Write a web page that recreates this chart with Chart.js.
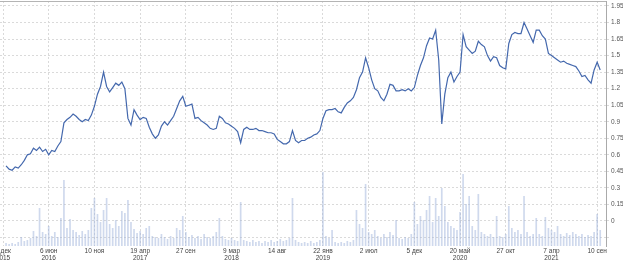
<!DOCTYPE html>
<html>
<head>
<meta charset="utf-8">
<script src="https://cdn.jsdelivr.net/npm/chart.js@4/dist/chart.umd.min.js"></script>
<style>
  html, body { margin: 0; padding: 0; background: #fff; }
  #wrap { width: 623px; height: 263px; overflow: hidden; }
</style>
</head>
<body>
<div id="wrap"><canvas id="grafico" width="623" height="263"></canvas></div>
<script>
// === Datos ===
// price: one value per step (step index starts at 1)
const price = [
  0.50, 0.47, 0.46, 0.49, 0.48, 0.51, 0.55, 0.60, 0.61, 0.66,
  0.64, 0.67, 0.63, 0.65, 0.60, 0.64, 0.63, 0.68, 0.72, 0.89,
  0.92, 0.94, 0.97, 0.95, 0.92, 0.90, 0.92, 0.91, 0.96, 1.04,
  1.15, 1.22, 1.35, 1.22, 1.17, 1.21, 1.25, 1.23, 1.26, 1.20,
  0.93, 0.87, 1.01, 0.96, 0.92, 0.94, 0.93, 0.85, 0.79, 0.75,
  0.78, 0.86, 0.90, 0.87, 0.91, 0.95, 1.02, 1.09, 1.13, 1.04,
  1.05, 1.06, 0.93, 0.94, 0.91, 0.89, 0.87, 0.84, 0.83, 0.84,
  0.95, 0.93, 0.89, 0.88, 0.86, 0.84, 0.81, 0.71, 0.83, 0.85,
  0.83, 0.83, 0.84, 0.82, 0.82, 0.81, 0.80, 0.80, 0.79, 0.74,
  0.72, 0.70, 0.70, 0.72, 0.82, 0.73, 0.71, 0.73, 0.73, 0.75,
  0.76, 0.78, 0.79, 0.82, 0.93, 1.00, 1.01, 1.01, 1.02, 0.99,
  0.98, 1.03, 1.07, 1.09, 1.12, 1.19, 1.30, 1.35, 1.48, 1.39,
  1.28, 1.20, 1.18, 1.12, 1.09, 1.15, 1.24, 1.23, 1.18, 1.18,
  1.19, 1.18, 1.20, 1.18, 1.21, 1.32, 1.41, 1.48, 1.59, 1.66,
  1.65, 1.73, 1.46, 0.88, 1.15, 1.30, 1.35, 1.26, 1.31, 1.35,
  1.69, 1.58, 1.55, 1.52, 1.54, 1.63, 1.60, 1.58, 1.50, 1.45,
  1.49, 1.48, 1.41, 1.39, 1.38, 1.61, 1.69, 1.71, 1.70, 1.70,
  1.80, 1.74, 1.68, 1.62, 1.73, 1.73, 1.68, 1.65, 1.52, 1.50,
  1.48, 1.46, 1.44, 1.45, 1.43, 1.42, 1.41, 1.40, 1.36, 1.31,
  1.32, 1.28, 1.25, 1.37, 1.44, 1.37
];

// volume: same steps as price
const volume = [
   3,  2,  3,  2,  4,  9,  5,  6,  8, 15,
  10, 38, 14, 12, 20, 10, 14,  9, 28, 66,
  18, 27, 16, 14, 11, 15, 12, 16, 38, 48,
  32, 24, 36, 48, 22, 18, 26, 20, 35, 33,
  46, 24, 17, 13, 15, 12, 18, 20, 10,  9,
   8, 12,  9,  7, 10,  8, 18, 16, 30, 14,
   9, 11,  8, 10,  7, 12,  9,  8, 10, 14,
  28, 10,  7,  6,  8,  6,  5, 44,  6,  5,
   4,  6,  4,  5,  3,  5,  4,  6,  4,  5,
   7,  5,  6,  8, 48,  6,  4,  3,  4,  3,
   5,  3,  4,  6, 74, 10,  8, 16,  4,  3,
   4,  3,  5,  4,  6, 36, 22, 18, 62, 14,
  12, 16, 10,  8, 12,  9, 14, 11, 26,  8,
   7,  9,  8, 12, 44, 22, 30, 26, 36, 50,
  24, 48, 30, 58, 40, 24, 20, 18, 16, 34,
  72, 42, 50, 20, 16, 52, 14, 12, 10, 12,
   9, 30, 10,  9, 12, 40, 18, 14, 16, 12,
  50, 14, 10, 12, 28, 12, 10, 29, 18, 16,
  14, 20, 12, 10, 13, 11, 14, 12, 10, 12,
   9, 11, 10, 14, 32, 16
];

// x tick positions (step index) and labels
const xTickIdx = [0, 15, 30, 45, 60, 75, 90, 105, 120, 135, 150, 165, 180, 195];
const xTickLabels = [
  ['2 дек', '2015'], ['6 июн', '2016'], '10 ноя', ['19 апр', '2017'], '27 сен',
  ['9 мар', '2018'], '14 авг', ['22 янв', '2019'], '2 июл', '5 дек',
  ['20 май', '2020'], '27 окт', ['7 апр', '2021'], '10 сен'
];

// price axis ticks
const yTicks = [-0.15, 0, 0.15, 0.3, 0.45, 0.6, 0.75, 0.9, 1.05, 1.2, 1.35, 1.5, 1.65, 1.8, 1.95];

const ctx = document.getElementById('grafico').getContext('2d');

// linea gris arriba del grafico
const bordeSuperior = {
  id: 'bordeSuperior',
  afterDraw(chart) {
    const a = chart.chartArea;
    const c = chart.ctx;
    c.save();
    c.strokeStyle = '#b4b4b4';
    c.lineWidth = 1;
    c.beginPath();
    c.moveTo(0, a.top + 0.5);
    c.lineTo(a.right, a.top + 0.5);
    c.stroke();
    c.restore();
  }
};

const fuente = { family: 'Liberation Sans, Arial, sans-serif', size: 6.5 };

const grafico = new Chart(ctx, {
  type: 'line',
  data: {
    datasets: [
      {
        type: 'line',
        data: price.map((v, i) => ({ x: i + 1, y: v })),
        borderColor: '#4468ad',
        borderWidth: 1.2,
        pointRadius: 0,
        tension: 0,
        yAxisID: 'y',
        order: 1
      },
      {
        type: 'bar',
        data: volume.map((v, i) => ({ x: i + 1, y: v })),
        backgroundColor: 'rgba(160, 180, 220, 0.5)',
        borderWidth: 0,
        barPercentage: 0.55,
        categoryPercentage: 1,
        yAxisID: 'yv',
        order: 2
      }
    ]
  },
  options: {
    responsive: false,
    animation: false,
    devicePixelRatio: 1,
    layout: { padding: { top: 1, left: 0, right: 0, bottom: 0 } },
    plugins: { legend: { display: false }, tooltip: { enabled: false } },
    scales: {
      x: {
        type: 'linear',
        min: -0.985,
        max: 197.9,
        offset: false,
        grid: { color: '#dadada', offset: false, drawTicks: false },
        border: { display: false, dash: [2, 2] },
        afterBuildTicks: (s) => { s.ticks = xTickIdx.map(v => ({ value: v })); },
        afterFit: (s) => { s.height = 17; s.paddingLeft = 0; s.paddingRight = 0; },
        ticks: {
          autoSkip: false,
          maxRotation: 0,
          padding: 1,
          color: '#444',
          font: fuente,
          callback: (v) => {
            const k = xTickIdx.indexOf(v);
            return k >= 0 ? xTickLabels[k] : '';
          }
        }
      },
      y: {
        position: 'right',
        min: -0.227,
        max: 1.995,
        grid: { color: '#dadada', tickLength: 3 },
        border: { display: true, color: '#aaa', width: 1, dash: [2, 2] },
        afterBuildTicks: (s) => { s.ticks = yTicks.map(v => ({ value: v })); },
        afterFit: (s) => { s.width = 17; s.paddingTop = 0; s.paddingBottom = 0; },
        ticks: {
          padding: 2,
          color: '#555',
          font: fuente,
          callback: (v) => v < 0 ? '' : String(Math.round(v * 100) / 100)
        }
      },
      yv: {
        display: false,
        min: 0,
        max: 245
      }
    }
  },
  plugins: [bordeSuperior]
});
</script>
</body>
</html>
